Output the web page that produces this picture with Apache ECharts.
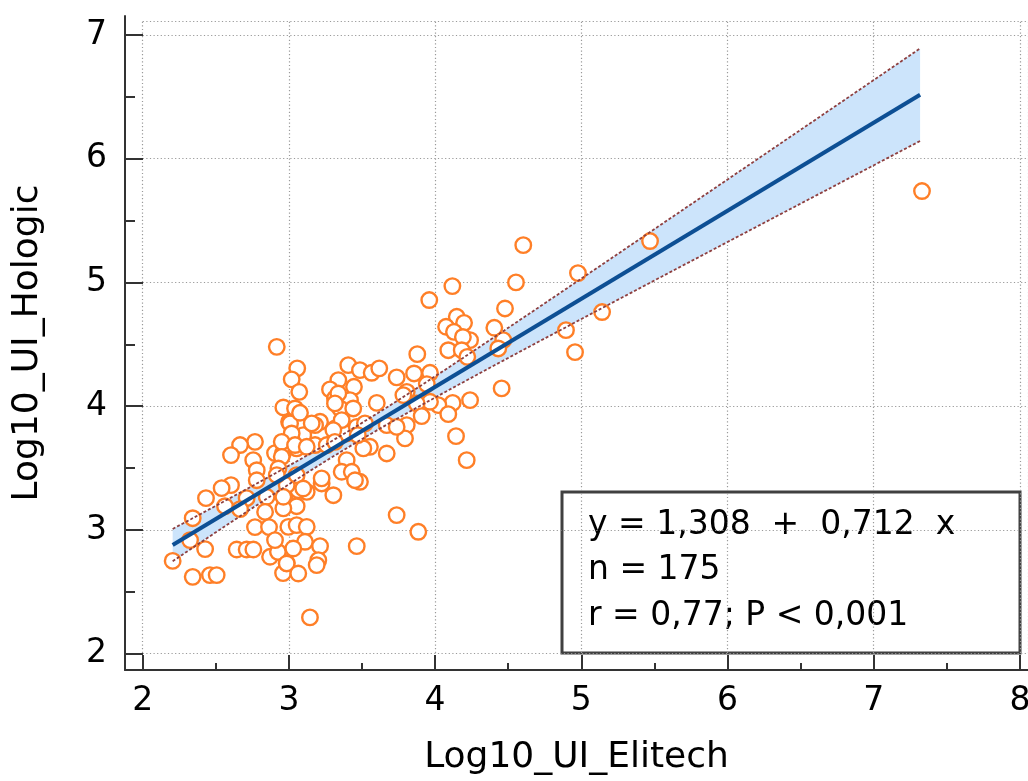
<!DOCTYPE html>
<html><head><meta charset="utf-8">
<script src="https://cdn.jsdelivr.net/npm/echarts@6/dist/echarts.min.js"></script>
<style>html,body{margin:0;padding:0;background:#fff}#c{width:1028px;height:781px}</style>
</head><body><div id="c"></div>
<script>
const elitechX = [2.768,2.666,2.604,2.756,2.780,2.780,2.905,2.960,3.007,3.001,
2.604,2.540,2.433,2.711,2.563,2.666,2.848,2.837,2.342,2.768,
2.864,2.324,2.427,2.205,2.643,2.711,2.757,2.871,2.342,2.460,
2.506,2.960,2.985,2.925,3.008,3.098,3.019,3.053,3.179,3.259,
3.213,3.315,3.395,3.464,3.520,3.554,3.509,3.669,3.806,3.794,
3.669,3.395,3.361,3.430,3.486,3.224,3.122,3.064,2.985,3.304,
2.973,3.053,2.962,3.737,3.885,2.996,3.053,3.122,3.110,3.030,
3.213,3.464,2.985,3.201,3.190,3.064,3.144,2.917,3.057,3.019,
3.071,2.962,3.042,3.076,
3.406,3.486,3.566,3.618,3.338,3.445,3.281,3.315,3.418,3.350,3.440,3.601,3.737,3.806,
3.179,3.361,3.737,
4.603,4.118,4.553,3.960,4.478,4.148,4.198,4.075,4.129,4.405,4.239,4.190,4.466,4.432,4.090,4.182,4.220,3.878,3.856,3.965,3.943,4.455,4.239,4.120,4.022,3.965,3.874,4.090,3.908,4.143,4.216,
3.338,3.315,3.156,3.019,2.951,3.042,3.122,3.304,3.471,3.783,2.951,2.928,3.224,3.315,2.917,3.053,3.098,2.962,2.905,
3.452,
5.470,4.977,5.142,4.895,4.957,7.330];
const hologicY = [3.712,3.686,3.605,3.564,3.483,3.402,3.621,3.621,3.686,3.874,
3.362,3.338,3.257,3.257,3.192,3.168,3.268,3.146,3.095,3.023,
3.023,2.918,2.845,2.750,2.842,2.842,2.842,2.783,2.621,2.635,
2.635,2.651,2.732,2.823,3.861,3.766,3.726,3.659,3.686,3.686,
3.874,3.820,3.780,3.833,3.861,3.672,3.659,3.847,3.847,3.740,
3.618,3.564,3.470,3.470,3.389,3.376,3.308,3.322,3.362,3.281,
3.241,3.192,3.174,3.120,2.985,3.025,3.039,3.025,2.904,2.850,
2.869,2.869,2.729,2.756,2.716,2.648,2.293,4.480,4.306,4.217,
4.116,3.990,3.982,3.947,
4.332,4.292,4.270,4.306,4.211,4.157,4.136,4.063,4.049,3.982,3.982,4.027,4.233,4.116,
3.847,3.888,3.833,
5.302,4.971,5.001,4.858,4.790,4.723,4.674,4.642,4.601,4.634,4.534,4.560,4.534,4.467,4.453,4.453,4.399,4.421,4.265,4.270,4.179,4.144,4.049,4.027,4.009,4.036,4.022,3.936,3.920,3.758,3.564,
4.103,4.023,3.861,3.780,3.712,3.686,3.672,3.807,3.766,4.090,3.591,3.497,3.417,3.712,3.443,3.443,3.335,3.268,2.918,
3.402,
5.335,5.076,4.761,4.615,4.437,5.739];

const xTickValues = [2,3,4,5,6,7,8];
const xMinorTickValues = [2.5,3.5,4.5,5.5,6.5,7.5];
const yTickValues = [2,3,4,5,6,7];
const yMinorTickValues = [2.5,3.5,4.5,5.5,6.5];
const fitIntercept = 1.308;
const fitSlope = 0.712;
const fitRange = [2.205, 7.317];
const statsLines = ['y = 1,308  +  0,712  x', 'n = 175', 'r = 0,77; P < 0,001'];
const xTitle = 'Log10_UI_Elitech';
const yTitle = 'Log10_UI_Hologic';

const FONT = 'DejaVu Sans';
const points = elitechX.map((x, i) => [x, hologicY[i]]);

// regression confidence band computed from the data
const n = points.length;
const xm = elitechX.reduce((a, b) => a + b, 0) / n;
const Sxx = elitechX.reduce((a, x) => a + (x - xm) * (x - xm), 0);
const SSr = points.reduce((a, p) => { const r = p[1] - (fitIntercept + fitSlope * p[0]); return a + r * r; }, 0);
const sRes = Math.sqrt(SSr / (n - 2));
const tVal = 1.974;
const bandUpper = [], bandLower = [];
const steps = 80;
for (let i = 0; i <= steps; i++) {
  const x = fitRange[0] + (fitRange[1] - fitRange[0]) * i / steps;
  const yh = fitIntercept + fitSlope * x;
  const hw = tVal * sRes * Math.sqrt(1 / n + (x - xm) * (x - xm) / Sxx);
  bandUpper.push([x, yh + hw]);
  bandLower.push([x, yh - hw]);
}
const fitLine = fitRange.map(x => [x, fitIntercept + fitSlope * x]);

const tickColor = '#333';
const gridLineStyle = {color: '#9a9a9a', width: 1.2, type: [1.2, 2.4]};
const chart = echarts.init(document.getElementById('c'), null, {renderer: 'canvas'});
chart.setOption({
  animation: false,
  backgroundColor: '#fff',
  grid: [
    {left: 125, right: 0, top: 16, bottom: 111, outerBoundsMode: 'none'},
    {left: 142.7, right: 0, top: 21.7, bottom: 127.3, outerBoundsMode: 'none'}
  ],
  xAxis: [
    {gridIndex: 0, type: 'value', min: 1.879, max: 8.055, position: 'bottom',
     axisLine: {show: true, onZero: false, lineStyle: {color: tickColor, width: 2}},
     axisTick: {show: true, inside: true, length: 15, customValues: xTickValues, lineStyle: {color: tickColor, width: 2}},
     axisLabel: {show: true, customValues: xTickValues, fontSize: 33, color: '#000', margin: 15, fontFamily: FONT},
     splitLine: {show: false},
     name: xTitle, nameLocation: 'middle', nameGap: 70,
     nameTextStyle: {fontSize: 36, color: '#000', fontFamily: FONT}},
    {gridIndex: 0, type: 'value', min: 1.879, max: 8.055, position: 'bottom',
     axisLine: {show: false},
     axisTick: {show: true, inside: true, length: 7, customValues: xMinorTickValues, lineStyle: {color: tickColor, width: 2}},
     axisLabel: {show: false}, splitLine: {show: false}},
    {gridIndex: 1, type: 'value', min: 2, max: 8.055, interval: 1, position: 'bottom',
     axisLine: {show: false}, axisTick: {show: false}, axisLabel: {show: false},
     splitLine: {show: true, lineStyle: gridLineStyle}}
  ],
  yAxis: [
    {gridIndex: 0, type: 'value', min: 1.868, max: 7.154, position: 'left',
     axisLine: {show: true, onZero: false, lineStyle: {color: tickColor, width: 2}},
     axisTick: {show: true, inside: true, length: 18, customValues: yTickValues, lineStyle: {color: tickColor, width: 2}},
     axisLabel: {show: true, customValues: yTickValues, fontSize: 33, color: '#000', margin: 18, fontFamily: FONT},
     splitLine: {show: false},
     name: yTitle, nameLocation: 'middle', nameGap: 79,
     nameTextStyle: {fontSize: 36, color: '#000', fontFamily: FONT}},
    {gridIndex: 0, type: 'value', min: 1.868, max: 7.154, position: 'left',
     axisLine: {show: false},
     axisTick: {show: true, inside: true, length: 10, customValues: yMinorTickValues, lineStyle: {color: tickColor, width: 2}},
     axisLabel: {show: false}, splitLine: {show: false}},
    {gridIndex: 1, type: 'value', min: 2, max: 7.1075, interval: 1, position: 'left',
     axisLine: {show: false}, axisTick: {show: false}, axisLabel: {show: false},
     splitLine: {show: true, lineStyle: gridLineStyle}}
  ],
  series: [
    {type: 'custom', xAxisIndex: 0, yAxisIndex: 0, silent: true, z: 1, clip: false,
     data: [fitLine[0]],
     renderItem: function (params, api) {
       const pts = bandUpper.map(p => api.coord(p)).concat(bandLower.slice().reverse().map(p => api.coord(p)));
       return {type: 'polygon', shape: {points: pts}, style: {fill: '#cce4fb'}};
     }},
    {type: 'scatter', xAxisIndex: 0, yAxisIndex: 0, z: 3, data: points,
     symbol: 'circle', symbolSize: 15.5,
     itemStyle: {color: '#fff', borderColor: '#ff7f27', borderWidth: 2.4, opacity: 1}},
    {type: 'line', xAxisIndex: 0, yAxisIndex: 0, z: 4, data: bandUpper, symbol: 'none', silent: true,
     lineStyle: {color: '#8e3f3f', width: 1.8, type: [3, 2]}},
    {type: 'line', xAxisIndex: 0, yAxisIndex: 0, z: 4, data: bandLower, symbol: 'none', silent: true,
     lineStyle: {color: '#8e3f3f', width: 1.8, type: [3, 2]}},
    {type: 'line', xAxisIndex: 0, yAxisIndex: 0, z: 5, data: fitLine, symbol: 'none', silent: true,
     lineStyle: {color: '#0d4f94', width: 4}}
  ],
  graphic: [
    {type: 'group', z: 100, children: [
      {type: 'rect', shape: {x: 562, y: 492, width: 458, height: 161},
       style: {fill: '#fff', stroke: '#404040', lineWidth: 3}},
      {type: 'text', x: 588, y: 525, style: {text: statsLines[0], fontSize: 33, fontFamily: FONT, fill: '#000', verticalAlign: 'middle'}},
      {type: 'text', x: 588, y: 570, style: {text: statsLines[1], fontSize: 33, fontFamily: FONT, fill: '#000', verticalAlign: 'middle'}},
      {type: 'text', x: 588, y: 616, style: {text: statsLines[2], fontSize: 33, fontFamily: FONT, fill: '#000', verticalAlign: 'middle'}}
    ]}
  ]
});
</script></body></html>
